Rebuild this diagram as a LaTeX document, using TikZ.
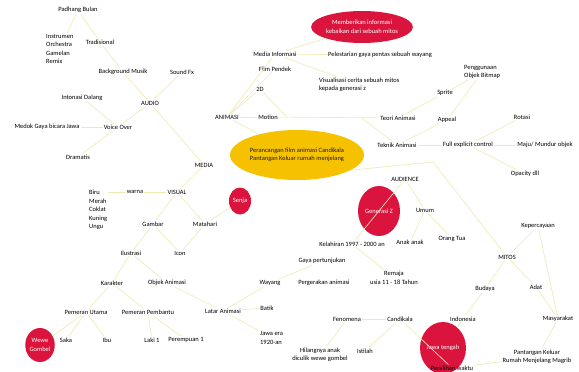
\documentclass[tikz,border=0pt]{standalone}
\usepackage{fontspec}
\setmainfont{Carlito}
\usepackage{tikz}
\usetikzlibrary{shapes.geometric}
\definecolor{linkcol}{RGB}{238,234,180}
\definecolor{mitosred}{RGB}{218,20,60}
\definecolor{hubyellow}{RGB}{246,194,0}

\begin{document}
\begin{tikzpicture}[x=1pt,y=-1pt]
		\tikzstyle{every node}+=[inner sep=1pt, font=\fontsize{6.5}{8.5}\selectfont]
		\tikzstyle{blob}=[ellipse, fill=mitosred, text=white, inner sep=0pt, align=center]
		\tikzstyle{hub}=[ellipse, fill=hubyellow, text=black!80!brown, inner sep=0pt, align=center]
		\tikzstyle{link}=[draw=linkcol, line width=0.65pt]
		\useasboundingbox (0,0) rectangle (579,372);
		% blobs
		\node [blob, minimum width=100, minimum height=32] (beri) at (362,27) {Memberikan informasi\\kebaikan dari sebuah mitos};
		\node [hub, minimum width=134, minimum height=50] (hub) at (297,155) {Perancangan film animasi Candikala\\Pantangan Keluar rumah menjelang};
		\node [blob, minimum width=22, minimum height=27] (senja) at (240,201) {Senja};
		\node [blob, minimum width=42, minimum height=50] (genz) at (379,211) {Generasi Z};
		\node [blob, minimum width=26, minimum height=34] (wewe) at (40,345) {Wewe\\Gombel};
		\node [blob, minimum width=42, minimum height=52] (jateng) at (443,348) {Jawa tengah};
		% audio
		\node (padhang) at (78,10) {Padhang Bulan};
		\node [anchor=west, align=left] (instr) at (45,49) {Instrumen\\Orchestra\\Gamelan\\Remix};
		\node (trad) at (100,42) {Tradisional};
		\node (bgm) at (123,72) {Background Musik};
		\node (sfx) at (182,72) {Sound Fx};
		\node (inton) at (82,98) {Intonasi Dalang};
		\node (audio) at (150,103) {AUDIO};
		\node (medok) at (47,127) {Medok Gaya bicara Jawa};
		\node (vo) at (118,127) {Voice Over};
		\node (dramatis) at (78,157) {Dramatis};
		% visual
		\node (media) at (204,165) {MEDIA};
		\node (visual) at (177,192) {VISUAL};
		\node (warna) at (135,192) {warna};
		\node [anchor=west, align=left] (warnalist) at (88,210) {Biru\\Merah\\Coklat\\Kuning\\Ungu};
		\node (gambar) at (153,224) {Gambar};
		\node (matahari) at (205,224) {Matahari};
		\node (ilustrasi) at (131,253) {Ilustrasi};
		\node (icon) at (180,253) {Icon};
		\node (karakter) at (112,283) {Karakter};
		\node (objek) at (167,283) {Objek Animasi};
		\node (utama) at (86,312) {Pemeran Utama};
		\node (pembantu) at (148,312) {Pemeran Pembantu};
		\node (saka) at (66,340) {Saka};
		\node (ibu) at (107,340) {Ibu};
		\node (laki) at (152,340) {Laki 1};
		\node (perempuan) at (186,340) {Perempuan 1};
		\node (latar) at (223,311) {Latar Animasi};
		\node (wayang) at (270,283) {Wayang};
		\node (gaya) at (322,261) {Gaya pertunjukan};
		\node (batik) at (267,308) {Batik};
		\node [anchor=west, align=left] (jawaera) at (259,338) {Jawa era\\1920-an};
		\node (gerak) at (324,283) {Pergerakan animasi};
		% animasi
		\node (animasi) at (227,117) {ANIMASI};
		\node (medinfo) at (275,54) {Media Informasi};
		\node (film) at (275,69) {Film Pendek};
		\node (dua) at (260,89) {2D};
		\node (motion) at (268,117) {Motion};
		\node (lestari) at (380,55) {Pelestarian gaya pentas sebuah wayang};
		\node [anchor=west, align=left] (visual2) at (318,85) {Visualisasi cerita sebuah mitos\\kepada generasi z};
		\node (teori) at (398,118) {Teori Animasi};
		\node (teknik) at (397,145) {Teknik Animasi};
		\node (sprite) at (445,93) {Sprite};
		\node (appeal) at (447,120) {Appeal};
		\node [anchor=west, align=left] (bitmap) at (463,72) {Penggunaan\\Objek Bitmap};
		\node (full) at (468,145) {Full explicit control};
		\node (maju) at (545,145) {Maju/ Mundur objek};
		\node (rotasi) at (522,117) {Rotasi};
		\node (opacity) at (525,174) {Opacity dll};
		% audience
		\node (audience) at (405,179) {AUDIENCE};
		\node (umum) at (425,210) {Umum};
		\node (anak) at (410,242) {Anak anak};
		\node (ortu) at (452,239) {Orang Tua};
		\node (kelahiran) at (352,244) {Kelahiran 1997 - 2000 an};
		\node [align=center] (remaja) at (394,278) {Remaja\\usia 11 - 18 Tahun};
		% mitos
		\node (mitos) at (507,257) {MITOS};
		\node (percaya) at (538,226) {Kepercayaan};
		\node (budaya) at (485,289) {Budaya};
		\node (adat) at (536,287) {Adat};
		\node (indonesia) at (463,319) {Indonesia};
		\node (masy) at (558,319) {Masyarakat};
		\node [align=center] (pantangan) at (537,357) {Pantangan Keluar\\Rumah Menjelang Magrib};
		\node (peralihan) at (452,368) {Peralihan waktu};
		\node (candikala) at (400,319) {Candikala};
		\node (fenomena) at (347,319) {Fenomena};
		\node (istilah) at (365,351) {Istilah};
		\node [align=center] (hilang) at (320,355) {Hilangnya anak\\diculik wewe gombel};
		\coordinate (j1) at (287,117);
		\coordinate (j2) at (362,118);
		\coordinate (bend) at (433,162);
		% links
		\draw [link] (padhang) -- (instr);
		\draw [link] (padhang) -- (trad);
		\draw [link] (trad) -- (bgm);
		\draw [link] (bgm) -- (audio);
		\draw [link] (sfx) -- (audio);
		\draw [link] (audio) -- (vo);
		\draw [link] (inton) -- (vo);
		\draw [link] (medok) -- (vo);
		\draw [link] (vo) -- (dramatis);
		\draw [link] (audio) -- (media);
		\draw [link] (media) -- (visual);
		\draw [link] (visual) -- (warna);
		\draw [link] (warna.west) -- (warnalist.east |- warna);
		\draw [link] (visual) -- (gambar);
		\draw [link] (visual) -- (matahari);
		\draw [link] (matahari) -- (senja);
		\draw [link] (gambar) -- (ilustrasi);
		\draw [link] (gambar) -- (icon);
		\draw [link] (icon) -- (matahari);
		\draw [link] (ilustrasi) -- (karakter);
		\draw [link] (ilustrasi) -- (objek);
		\draw [link] (karakter) -- (utama);
		\draw [link] (karakter) -- (pembantu);
		\draw [link] (utama) -- (wewe);
		\draw [link] (utama) -- (saka);
		\draw [link] (utama) -- (ibu);
		\draw [link] (pembantu) -- (laki);
		\draw [link] (pembantu) -- (perempuan);
		\draw [link] (objek) -- (latar);
		\draw [link] (latar) -- (wayang);
		\draw [link] (latar) -- (batik);
		\draw [link] (latar) -- (jawaera);
		\draw [link] (wayang) -- (gaya);
		\draw [link] (hub) -- (animasi);
		\draw [link] (animasi) -- (medinfo);
		\draw [link] (animasi) -- (film);
		\draw [link] (animasi) -- (dua);
		\draw [link] (animasi) -- (motion);
		\draw [link] (medinfo) -- (beri);
		\draw [link] (medinfo) -- (lestari);
		\draw [link] (medinfo) -- (visual2);
		\draw [link] (dua) -- (j1);
		\draw [link] (motion) -- (teori);
		\draw [link] (j2) -- (teknik);
		\draw [link] (teori) -- (sprite);
		\draw [link] (sprite) -- (bitmap);
		\draw [link] (appeal) -- (bitmap);
		\draw [link] (teknik) -- (appeal);
		\draw [link] (teknik) -- (full);
		\draw [link] (full) -- (maju);
		\draw [link] (full) -- (rotasi);
		\draw [link] (full) -- (opacity);
		\draw [link] (hub.-16) -- (bend) -- (mitos);
		\draw [link] (audience) -- (kelahiran);
		\draw [link] (audience) -- (umum);
		\draw [link] (umum) -- (anak);
		\draw [link] (umum) -- (ortu);
		\draw [link] (kelahiran) -- (remaja);
		\draw [link] (mitos) -- (percaya);
		\draw [link] (mitos) -- (budaya);
		\draw [link] (mitos) -- (adat);
		\draw [link] (percaya) -- (masy);
		\draw [link] (adat) -- (masy);
		\draw [link] (masy) -- (pantangan);
		\draw [link] (budaya) -- (indonesia);
		\draw [link] (indonesia) -- (jateng);
		\draw [link] (pantangan) -- (peralihan);
		\draw [link] (candikala) -- (peralihan);
		\draw [link] (candikala) -- (fenomena);
		\draw [link] (candikala) -- (istilah);
		\draw [link] (fenomena) -- (hilang);
	\end{tikzpicture}
\end{document}
